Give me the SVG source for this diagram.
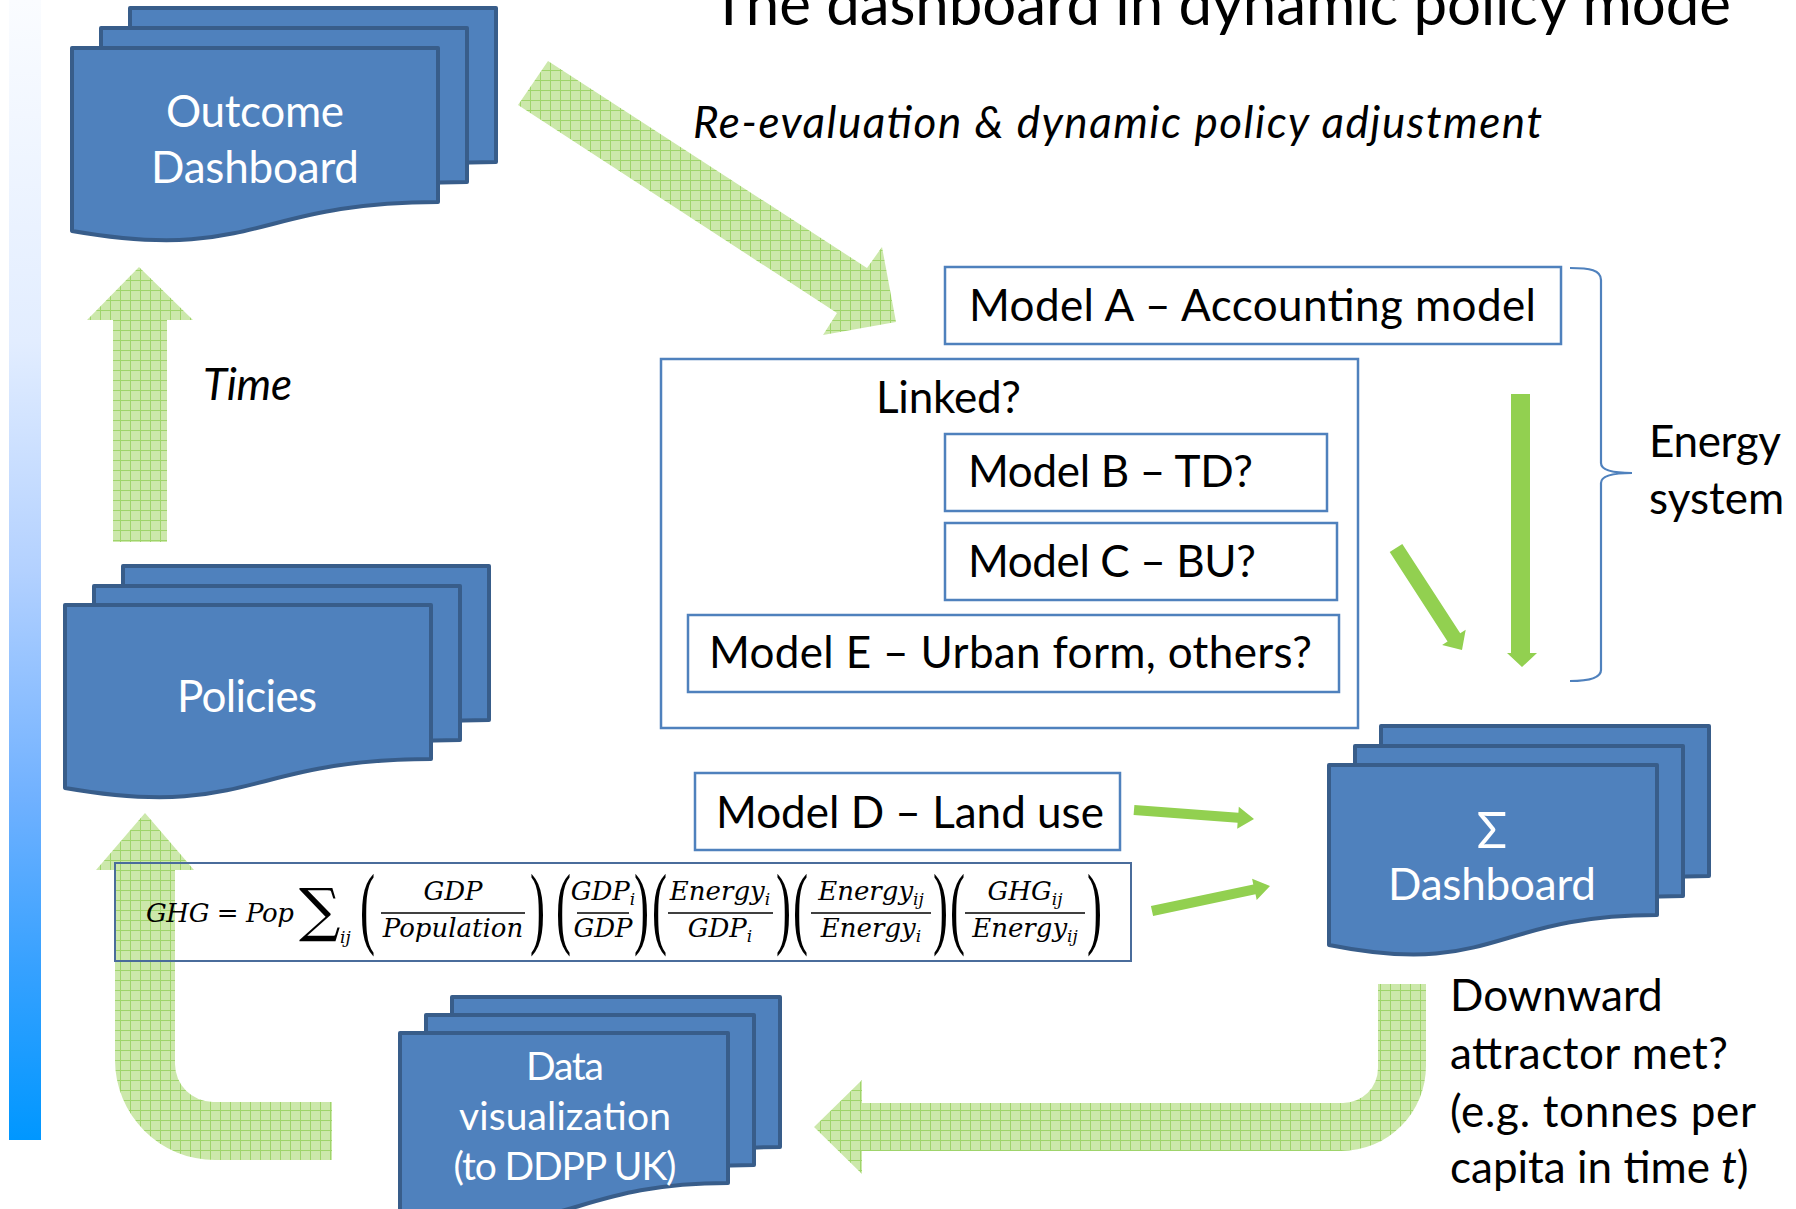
<svg xmlns="http://www.w3.org/2000/svg" width="1796" height="1209" viewBox="0 0 1796 1209">
<style>
.lbl{font-family:Lato,"Open Sans","Liberation Sans",sans-serif;font-size:44px;fill:#000}
.wl{font-family:Lato,"Open Sans","Liberation Sans",sans-serif;font-size:44px;fill:#fff;text-anchor:middle}
.it{font-style:italic}
.box{fill:#fff;stroke:#4f81bd;stroke-width:2.5}
.doc{fill:#4f81bd;stroke:#385d8a;stroke-width:4;stroke-linejoin:round}
.hatch{fill:url(#hp)}
.solid{fill:#92d050}
.fm{font-family:"DejaVu Serif","Liberation Serif",serif;font-style:italic;font-size:26px;fill:#000}
.fmc{font-family:"DejaVu Serif","Liberation Serif",serif;font-style:italic;font-size:26px;fill:#000;text-anchor:middle}
.par{font-family:"Liberation Serif","DejaVu Serif",serif;font-size:90px;fill:#000}
.fb{stroke:#000;stroke-width:1.6}
</style>
<defs>
<linearGradient id="bar" x1="0" y1="0" x2="0" y2="1">
<stop offset="0" stop-color="#fafcff"/>
<stop offset="0.3" stop-color="#e2edff"/>
<stop offset="0.5" stop-color="#b3d1ff"/>
<stop offset="0.7" stop-color="#70b1ff"/>
<stop offset="0.85" stop-color="#36a1ff"/>
<stop offset="1" stop-color="#0097ff"/>
</linearGradient>
<pattern id="hp" width="10" height="10" patternUnits="userSpaceOnUse">
<rect width="10" height="10" fill="#cce8ab"/>
<path d="M0,0.5H10M0.5,0V10" stroke="#9fd46b" stroke-width="1"/>
</pattern>
<path id="docA" d="M0,0H366V154C183,154 183,215 0,183Z"/>
<path id="docB" d="M0,0H328V150C164,150 164,213 0,180Z"/>
</defs>

<rect x="9" y="0" width="32" height="1140" fill="url(#bar)"/>

<text class="lbl" x="711" y="25" textLength="1020" style="font-size:60px">The dashboard in dynamic policy mode</text>
<text class="lbl it" x="693" y="138" textLength="849">Re-evaluation &amp; dynamic policy adjustment</text>
<text class="lbl it" x="203" y="400" textLength="89">Time</text>

<g id="connectors">
<path class="hatch" d="M548,61L867,268L882,247L896,322L823,335L837,313L518,105Z"/>
<path class="hatch" d="M113,542V320H87L139,267L193,320H167V542Z"/>
<path class="hatch" d="M1378,984H1426V1066A85,85 0 0 1 1341,1151H862V1174L814,1127L862,1080V1103H1343A35,35 0 0 0 1378,1068Z"/>
<path class="hatch" d="M332,1102H213A38,38 0 0 1 175,1064V870H194L145,813L96,870H115V1060A100,100 0 0 0 215,1160H332Z"/>
<polygon class="solid" points="1511,394 1530,394 1530,653 1537,653 1522,667 1507,653 1511,653"/>
<polygon class="solid" points="1402.3,543.9 1460.2,633.3 1465.7,629.8 1462,650 1442.1,645 1447.6,641.5 1389.7,552.1"/>
<polygon class="solid" points="1134.4,805 1238.4,812.8 1238.8,806.8 1254,819 1237.2,828.8 1237.6,822.8 1133.6,815"/>
<polygon class="solid" points="1150.9,906.1 1253.3,884.5 1252.1,878.7 1270,886 1256.7,900.1 1255.5,894.3 1153.1,915.9"/>
</g>

<g id="outcome-dashboard">
<use href="#docA" class="doc" transform="translate(130,8)"/>
<use href="#docA" class="doc" transform="translate(101,28)"/>
<use href="#docA" class="doc" transform="translate(72,48)"/>
<text class="wl" x="255" y="127" textLength="178">Outcome</text>
<text class="wl" x="255" y="183" textLength="208">Dashboard</text>
</g>

<g id="policies">
<use href="#docA" class="doc" transform="translate(123,566)"/>
<use href="#docA" class="doc" transform="translate(94,586)"/>
<use href="#docA" class="doc" transform="translate(65,605)"/>
<text class="wl" x="247" y="712" textLength="140">Policies</text>
</g>

<g id="dashboard">
<use href="#docB" class="doc" transform="translate(1381,726)"/>
<use href="#docB" class="doc" transform="translate(1355,746)"/>
<use href="#docB" class="doc" transform="translate(1329,765)"/>
<text class="wl" x="1492" y="848" style="font-size:50px">Σ</text>
<text class="wl" x="1492" y="900" textLength="208">Dashboard</text>
</g>

<g id="data-visualization">
<use href="#docB" class="doc" transform="translate(452,997)"/>
<use href="#docB" class="doc" transform="translate(426,1015)"/>
<use href="#docB" class="doc" transform="translate(400,1033)"/>
<text class="wl" x="565" y="1080" style="font-size:39px" textLength="78">Data</text>
<text class="wl" x="565" y="1130" style="font-size:39px" textLength="212">visualization</text>
<text class="wl" x="565" y="1180" style="font-size:39px" textLength="223">(to DDPP UK)</text>
</g>

<g id="model-a">
<rect class="box" x="945" y="267" width="616" height="77"/>
<text class="lbl" x="969" y="321" textLength="567">Model A – Accounting model</text>
</g>

<g id="energy-system">
<path d="M1570,268C1590,268 1601,270 1601,280V463C1601,470 1612,473 1632,473C1612,473 1601,476 1601,483V670C1601,678 1590,681 1570,681" fill="none" stroke="#4f81bd" stroke-width="2.2"/>
<text class="lbl" x="1649" y="457" textLength="132">Energy</text>
<text class="lbl" x="1649" y="514">system</text>
</g>

<g id="linked">
<rect class="box" x="661" y="359" width="697" height="369"/>
<text class="lbl" x="876" y="413" textLength="145">Linked?</text>
</g>

<g id="model-b">
<rect class="box" x="945" y="434" width="382" height="77"/>
<text class="lbl" x="968" y="487" textLength="285">Model B – TD?</text>
</g>

<g id="model-c">
<rect class="box" x="945" y="523" width="392" height="77"/>
<text class="lbl" x="968" y="577" textLength="288">Model C – BU?</text>
</g>

<g id="model-e">
<rect class="box" x="688" y="615" width="651" height="77"/>
<text class="lbl" x="709" y="668" textLength="603">Model E – Urban form, others?</text>
</g>

<g id="model-d">
<rect class="box" x="695" y="773" width="425" height="77"/>
<text class="lbl" x="716" y="828">Model D – Land use</text>
</g>

<g id="formula">
<rect x="115" y="863" width="1016" height="98" fill="none" stroke="#4a6c9b" stroke-width="2"/>
<text class="fm" x="146" y="922" textLength="148">GHG = Pop</text>
<text x="299" y="930" style="font-family:'DejaVu Serif','Liberation Serif',serif;font-size:58px">∑</text>
<text class="fm" x="340" y="943" style="font-size:17px">ij</text>
<text class="par" transform="translate(360,937) scale(0.5,1)">(</text>
<text class="fmc" x="453" y="900">GDP</text>
<line class="fb" x1="381" y1="913" x2="525" y2="913"/>
<text class="fmc" x="453" y="937">Population</text>
<text class="par" transform="translate(530,937) scale(0.5,1)">)</text>
<text class="par" transform="translate(556,937) scale(0.5,1)">(</text>
<text class="fmc" x="603" y="900">GDP<tspan style="font-size:17px" dy="5">i</tspan></text>
<line class="fb" x1="577" y1="913" x2="629" y2="913"/>
<text class="fmc" x="603" y="937">GDP</text>
<text class="par" transform="translate(634,937) scale(0.5,1)">)</text>
<text class="par" transform="translate(652,937) scale(0.5,1)">(</text>
<text class="fmc" x="720" y="900">Energy<tspan style="font-size:17px" dy="5">i</tspan></text>
<line class="fb" x1="668" y1="913" x2="773" y2="913"/>
<text class="fmc" x="720" y="937">GDP<tspan style="font-size:17px" dy="5">i</tspan></text>
<text class="par" transform="translate(776,937) scale(0.5,1)">)</text>
<text class="par" transform="translate(793,937) scale(0.5,1)">(</text>
<text class="fmc" x="871" y="900">Energy<tspan style="font-size:17px" dy="5">ij</tspan></text>
<line class="fb" x1="811" y1="913" x2="931" y2="913"/>
<text class="fmc" x="871" y="937">Energy<tspan style="font-size:17px" dy="5">i</tspan></text>
<text class="par" transform="translate(933,937) scale(0.5,1)">)</text>
<text class="par" transform="translate(950,937) scale(0.5,1)">(</text>
<text class="fmc" x="1025" y="900">GHG<tspan style="font-size:17px" dy="5">ij</tspan></text>
<line class="fb" x1="965" y1="913" x2="1085" y2="913"/>
<text class="fmc" x="1025" y="937">Energy<tspan style="font-size:17px" dy="5">ij</tspan></text>
<text class="par" transform="translate(1087,937) scale(0.5,1)">)</text>
</g>

<g id="downward-note">
<text class="lbl" x="1450" y="1011">Downward</text>
<text class="lbl" x="1450" y="1069" textLength="278">attractor met?</text>
<text class="lbl" x="1450" y="1127" textLength="306">(e.g. tonnes per</text>
<text class="lbl" x="1450" y="1183">capita in time <tspan class="it">t</tspan>)</text>
</g>
</svg>
